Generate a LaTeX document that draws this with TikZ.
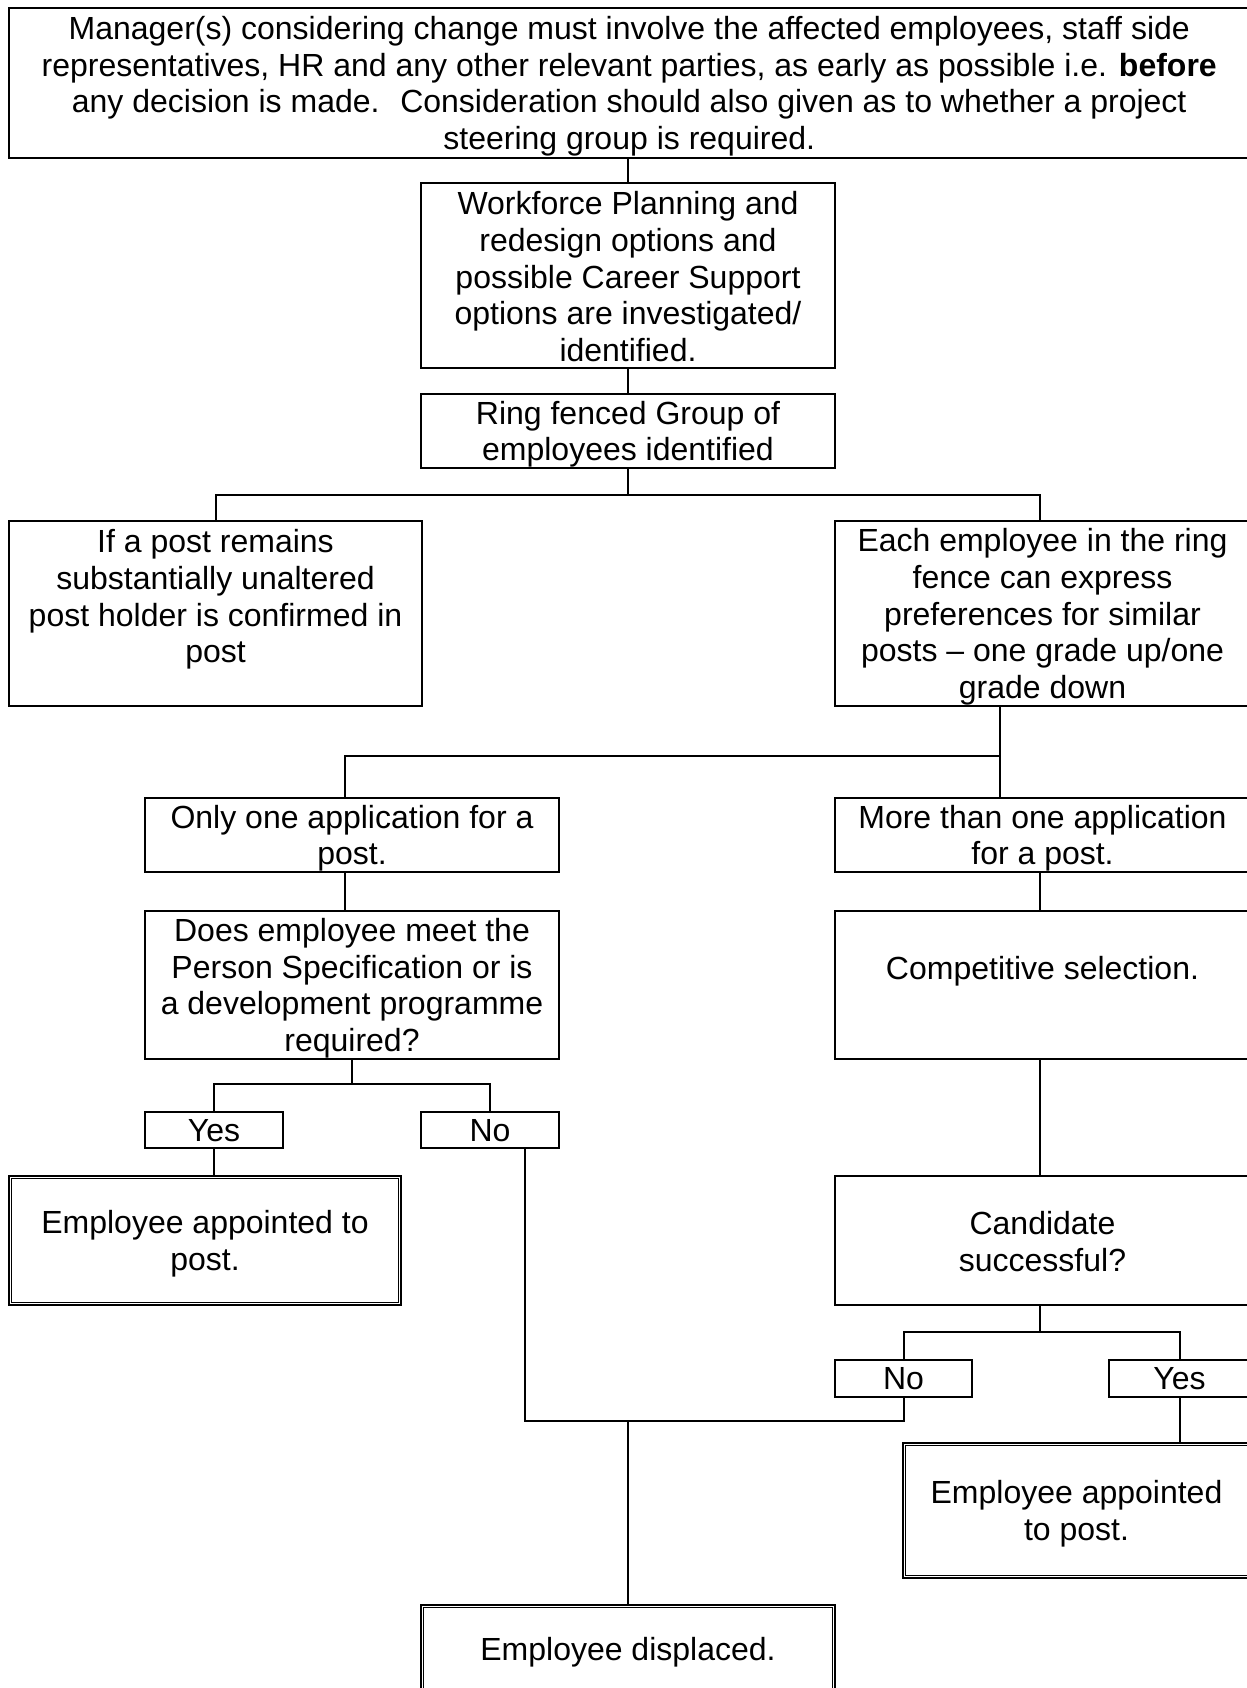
\documentclass[tikz,border=0pt]{standalone}
\usepackage{fontspec}
\setmainfont{Liberation Sans}
\newcommand{\bodyfont}{\fontsize{16pt}{18.3pt}\selectfont}
\newcommand{\tstrut}{\rule{0pt}{15pt}}
\newcommand{\sstrut}{\rule{0pt}{13.6pt}}
\newcommand{\bstrut}{\rule[-2.5pt]{0pt}{0pt}}
\begin{document}
\begin{tikzpicture}[x=0.5pt,y=-0.5pt,
  box/.style={draw, line width=1pt, inner sep=0pt, align=center, font=\bodyfont,
    execute at end node=\bstrut},
  dbl/.style={box, line width=1.25pt},
  conn/.style={line width=1pt}]
\clip (0,0) rectangle (1247,1688);
\fill[white] (0,0) rectangle (1247,1688);

\node[box, minimum width=620.75pt, minimum height=75pt] (top) at (629.25,83)
 {\tstrut Manager(s) considering change must involve the affected employees, staff side\\
  representatives, HR and any other relevant parties, as early as possible i.e. \textbf{before}\\
  any decision is made.~ Consideration should also given as to whether a project\\
  steering group is required.};
\node[box, minimum width=207pt, minimum height=92.5pt] (wf) at (628,275.5)
 {\tstrut Workforce Planning and\\ redesign options and\\ possible Career Support\\ options are investigated/\\ identified.};
\node[box, minimum width=207pt, minimum height=37pt] (ring) at (628,431)
 {\tstrut Ring fenced Group of\\ employees identified};
\node[box, minimum width=206.5pt, minimum height=92.5pt] (left) at (215.5,613.5)
 {\tstrut If a post remains\\ substantially unaltered\\ post holder is confirmed in\\ post\\ };
\node[box, minimum width=207.5pt, minimum height=92.5pt] (right) at (1042.5,613.5)
 {\tstrut Each employee in the ring\\ fence can express\\ preferences for similar\\ posts – one grade up/one\\ grade down};
\node[box, minimum width=207pt, minimum height=37pt] (only) at (352,835)
 {\tstrut Only one application for a\\ post.};
\node[box, minimum width=207.5pt, minimum height=37pt] (more) at (1042.5,835)
 {\tstrut More than one application\\ for a post.};
\node[box, minimum width=207pt, minimum height=74pt] (does) at (352,985)
 {\tstrut Does employee meet the\\ Person Specification or is\\ a development programme\\ required?};
\node[box, minimum width=207.5pt, minimum height=74pt] (comp) at (1042.5,985)
 {\tstrut Competitive selection.\\ };
\node[box, minimum width=69pt, minimum height=18pt] (yes1) at (214,1130) {\sstrut Yes};
\node[box, minimum width=69pt, minimum height=18pt] (no1) at (490,1130) {\sstrut No};
\node[dbl, minimum width=196pt, minimum height=64.5pt] (app1) at (205,1240.5)
 {\tstrut Employee appointed to\\ post.};
\node[box, minimum width=207.5pt, minimum height=64.5pt] (cand) at (1042.5,1240.5)
 {\tstrut Candidate\\ successful?};
\node[box, minimum width=68.5pt, minimum height=18.5pt] (no2) at (903.5,1378.5) {\sstrut No};
\node[box, minimum width=70.5pt, minimum height=18.5pt] (yes2) at (1179.5,1378.5) {\sstrut Yes};
\node[dbl, minimum width=173.5pt, minimum height=67.5pt] (app2) at (1076.5,1510.5)
 {\tstrut Employee appointed\\ to post.};
\node[dbl, minimum width=207pt, minimum height=45pt] (disp) at (628,1650)
 {\sstrut Employee displaced.};

\foreach \n in {app1,app2,disp}
  \draw[line width=0.7pt] ([xshift=2pt,yshift=-2pt]\n.north west) rectangle ([xshift=-2pt,yshift=2pt]\n.south east);

\coordinate (j1) at (628,495);
\coordinate (j1r) at (1040,495);
\coordinate (sx) at (1000,756);
\coordinate (ox) at (345,756);
\coordinate (j3) at (352,1084);
\coordinate (nx) at (525,1421);
\coordinate (j4) at (628,1421);
\coordinate (cx) at (1040,1000);
\coordinate (j5) at (1040,1332);

\draw[conn] (top.south -| wf.north) -- (wf.north);
\draw[conn] (wf.south) -- (ring.north);
\draw[conn] (ring.south) -- (j1);
\draw[conn] (left.north) -- (left.north |- j1) -- (j1r) -- (right.north -| j1r);
\draw[conn] (right.south -| sx) -- (more.north -| sx);
\draw[conn] (sx) -- (ox) -- (only.north -| ox);
\draw[conn] (only.south -| ox) -- (does.north -| ox);
\draw[conn] (does.south) -- (j3);
\draw[conn] (yes1.north) -- (yes1.north |- j3) -- (no1.north |- j3) -- (no1.north);
\draw[conn] (yes1.south) -- (app1.north -| yes1.south);
\draw[conn] (no1.south -| nx) -- (nx) -- (no2.south |- nx) -- (no2.south);
\draw[conn] (j4) -- (disp.north);
\draw[conn] (more.south -| cx) -- (comp.north -| cx);
\draw[conn] (comp.south -| cx) -- (cand.north -| cx);
\draw[conn] (cand.south -| j5) -- (j5);
\draw[conn] (no2.north) -- (no2.north |- j5) -- (yes2.north |- j5) -- (yes2.north);
\draw[conn] (yes2.south) -- (app2.north -| yes2.south);
\end{tikzpicture}
\end{document}
